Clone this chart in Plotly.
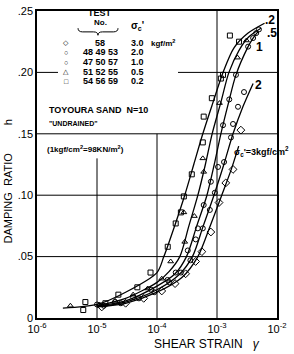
import plotly.graph_objects as go

# ---------------- data ----------------
# fitted curves (shear strain, damping ratio h)
c02_strain = [2.7e-6, 1e-5, 3e-5, 1e-4, 1.3e-4, 2.0e-4, 2.9e-4, 4.1e-4, 5.8e-4, 8.5e-4, 1.26e-3, 1.92e-3, 3.3e-3, 6.2e-3]
c02_h = [0.008, 0.011, 0.021, 0.037, 0.05, 0.076, 0.10, 0.125, 0.15, 0.175, 0.20, 0.220, 0.232, 0.240]

c05_strain = [1e-5, 3e-5, 1e-4, 1.6e-4, 2.4e-4, 3.4e-4, 4.8e-4, 6.4e-4, 8.3e-4, 1.15e-3, 1.58e-3, 2.33e-3, 3.4e-3, 5.4e-3]
c05_h = [0.010, 0.016, 0.029, 0.038, 0.05, 0.075, 0.10, 0.125, 0.15, 0.175, 0.20, 0.218, 0.229, 0.236]

c10_strain = [1e-5, 3e-5, 1e-4, 2.0e-4, 3.1e-4, 4.6e-4, 6.8e-4, 9.0e-4, 1.16e-3, 1.55e-3, 2.07e-3, 3.3e-3, 4.0e-3, 4.8e-3]
c10_h = [0.010, 0.014, 0.026, 0.036, 0.05, 0.075, 0.10, 0.125, 0.15, 0.175, 0.198, 0.221, 0.228, 0.233]

c20_strain = [1e-5, 3e-5, 1e-4, 2.3e-4, 3.9e-4, 5.9e-4, 8.9e-4, 1.3e-3, 1.85e-3, 2.7e-3, 4.0e-3]
c20_h = [0.009, 0.013, 0.023, 0.035, 0.05, 0.075, 0.10, 0.125, 0.15, 0.172, 0.191]

c30_strain = [1e-5, 3e-5, 1e-4, 2.6e-4, 4.8e-4, 7.7e-4, 1.2e-3, 1.7e-3, 2.3e-3]
c30_h = [0.009, 0.012, 0.021, 0.033, 0.05, 0.075, 0.10, 0.12, 0.14]

# test points
sq_strain = [5.9e-6, 6.4e-6, 1.38e-5, 2.27e-5, 4.7e-5, 7.8e-5, 1.51e-4, 2.05e-4, 2.5e-4, 2.8e-4, 3.8e-4, 5.8e-4, 6.0e-4, 8.2e-4, 1.16e-3, 1.26e-3, 1.64e-3, 2.33e-3]
sq_h = [0.0065, 0.013, 0.012, 0.019, 0.025, 0.037, 0.058, 0.077, 0.086, 0.099, 0.117, 0.143, 0.164, 0.179, 0.195, 0.198, 0.230, 0.225]

tri_strain = [3.6e-6, 1.1e-5, 2.0e-5, 4.0e-5, 7.0e-5, 1.2e-4, 1.69e-4, 2.9e-4, 2.8e-4, 4.2e-4, 6.0e-4, 5.8e-4, 1.1e-3, 2.2e-3, 3.1e-3]
tri_h = [0.010, 0.011, 0.014, 0.019, 0.024, 0.032, 0.046, 0.062, 0.086, 0.083, 0.119, 0.130, 0.175, 0.212, 0.226]

o10_strain = [1.0e-5, 2.0e-5, 4.0e-5, 8.0e-5, 1.5e-4, 2.05e-4, 3.26e-4, 4.8e-4, 6.0e-4, 7.9e-4, 1.26e-3, 1.6e-3, 2.07e-3, 3.3e-3, 4.0e-3, 4.5e-3, 5.0e-3]
o10_h = [0.011, 0.013, 0.017, 0.023, 0.031, 0.037, 0.055, 0.073, 0.092, 0.111, 0.157, 0.178, 0.198, 0.221, 0.228, 0.232, 0.235]

o20_strain = [1.3e-5, 2.5e-5, 5.0e-5, 9.0e-5, 1.6e-4, 2.5e-4, 3.6e-4, 4.43e-4, 5.8e-4, 7.6e-4, 9.2e-4, 1.04e-3, 1.31e-3, 1.71e-3, 1.85e-3, 2.24e-3, 2.82e-3]
o20_h = [0.010, 0.012, 0.016, 0.021, 0.029, 0.037, 0.047, 0.064, 0.073, 0.088, 0.102, 0.123, 0.127, 0.147, 0.158, 0.172, 0.184]

dia_strain = [1.2e-5, 3.0e-5, 6.0e-5, 1.2e-4, 2.0e-4, 3.0e-4, 4.4e-4, 5.6e-4, 7.9e-4, 1.08e-3, 1.4e-3, 1.85e-3, 2.5e-3]
dia_h = [0.009, 0.012, 0.016, 0.022, 0.028, 0.036, 0.046, 0.054, 0.070, 0.094, 0.110, 0.121, 0.153]

x_tickvals = [1e-6, 1e-5, 1e-4, 1e-3, 1e-2]
x_ticktext = ["10<sup>-6</sup>", "10<sup>-5</sup>", "10<sup>-4</sup>", "10<sup>-3</sup>", "10<sup>-2</sup>"]
y_tickvals = [0, 0.05, 0.10, 0.15, 0.20, 0.25]
y_ticktext = ["0", ".05", ".10", ".15", ".20", ".25"]

legend_tests = ["58", "48 49 53", "47 50 57", "51 52 55", "54 56 59"]
legend_sigma = ["3.0", "2.0", "1.0", "0.5", "0.2"]
legend_symbols = ["\u25c7", "\u25cb", "\u25cb", "\u25b3", "\u25a1"]

FONT = "Liberation Sans"

fig = go.Figure()

for xs, ys in [(c02_strain, c02_h), (c05_strain, c05_h), (c10_strain, c10_h),
               (c20_strain, c20_h), (c30_strain, c30_h)]:
    fig.add_trace(go.Scatter(x=xs, y=ys, mode="lines",
                             line=dict(color="black", width=1.3, shape="spline", smoothing=0.8),
                             hoverinfo="skip"))

for xs, ys, sym, sz in [(sq_strain, sq_h, "square-open", 5),
                        (tri_strain, tri_h, "triangle-up-open", 5),
                        (o10_strain, o10_h, "circle-open", 5),
                        (o20_strain, o20_h, "circle-open", 5),
                        (dia_strain, dia_h, "diamond-open", 6)]:
    fig.add_trace(go.Scatter(x=xs, y=ys, mode="markers",
                             marker=dict(symbol=sym, size=sz, color="black",
                                         line=dict(color="black", width=1)),
                             hoverinfo="skip"))

# grid segments (paper coords)
shapes = []
def seg(x0, y0, x1, y1):
    shapes.append(dict(type="line", xref="paper", yref="paper", x0=x0, y0=y0, x1=x1, y1=y1,
                       line=dict(color="black", width=1)))
seg(0.25, 0, 0.25, 0.52)
seg(0.5, 0, 0.5, 0.6)
seg(0.75, 0, 0.75, 1)
seg(0, 0.2, 1, 0.2)
seg(0, 0.4, 1, 0.4)
seg(0, 0.6, 1, 0.6)
seg(0, 0.8, 0.0875, 0.8)
seg(0.5875, 0.8, 1, 0.8)
# brace under TEST No.
shapes.append(dict(type="path", xref="paper", yref="paper",
                   path="M 0.171,0.944 Q 0.171,0.932 0.19,0.932 L 0.235,0.932 Q 0.254,0.932 0.254,0.921 "
                        "Q 0.254,0.932 0.273,0.932 L 0.318,0.932 Q 0.3375,0.932 0.3375,0.944",
                   line=dict(color="black", width=1)))

ann = []
def txt(x, y, s, size=9, xa="center", ya="middle", angle=0):
    ann.append(dict(x=x, y=y, xref="paper", yref="paper", text=s, showarrow=False,
                    xanchor=xa, yanchor=ya, textangle=angle, borderpad=0,
                    font=dict(family=FONT, size=size, color="black")))

txt(0.2625, 0.993, "<b>TEST</b>", 9)
txt(0.2625, 0.964, "<b>No.</b>", 8)
txt(0.417, 0.950, "<b>σ<sub>c</sub>'</b>", 10)
rows_y = [0.897, 0.865, 0.833, 0.802, 0.771]
for yy, t, s, m in zip(rows_y, legend_tests, legend_sigma, legend_symbols):
    txt(0.121, yy, m, 7)
    txt(0.2625, yy, "<b>" + t + "</b>", 9)
    txt(0.417, yy, "<b>" + s + "</b>", 9)
txt(0.471, 0.897, "<b>kgf/m<sup>2</sup></b>", 8, xa="left")
txt(0.046, 0.6775, "<b>TOYOURA SAND  N=10</b>", 9, xa="left")
txt(0.046, 0.633, "<b>\"UNDRAINED\"</b>", 7, xa="left")
txt(0.038, 0.550, "<b>(1kgf/cm<sup>2</sup>=98KN/m<sup>2</sup>)</b>", 8, xa="left")

# curve labels
txt(0.971, 0.971, "<b>.2</b>", 12)
txt(0.979, 0.928, "<b>.5</b>", 12)
txt(0.925, 0.883, "<b>1</b>", 12)
txt(0.921, 0.759, "<b>2</b>", 12)
txt(0.817, 0.541, "<b>σ<sub>c</sub>'=3kgf/cm<sup>2</sup></b>", 9, xa="left")

# axis titles
txt(-0.12, 0.39, "DAMPING  RATIO", 11, angle=-90)
txt(-0.12, 0.638, "h", 11, angle=-90)
txt(0.71, -0.085, "SHEAR STRAIN   <i>γ</i>", 12)

fig.update_layout(
    width=294, height=354,
    margin=dict(l=37, r=17, t=11, b=36),
    paper_bgcolor="white", plot_bgcolor="white",
    showlegend=False,
    shapes=shapes, annotations=ann,
    font=dict(family=FONT, color="black"),
    xaxis=dict(type="log", range=[-6, -2], showgrid=False, zeroline=False,
               showline=True, mirror=True, linecolor="black", linewidth=1.5,
               tickvals=x_tickvals, ticktext=x_ticktext, ticks="",
               tickfont=dict(family=FONT, size=11, color="black"), automargin=False),
    yaxis=dict(range=[0, 0.25], showgrid=False, zeroline=False,
               showline=True, mirror=True, linecolor="black", linewidth=1.5,
               tickvals=y_tickvals, ticktext=y_ticktext, ticks="",
               tickfont=dict(family=FONT, size=11, color="black"), automargin=False),
)

fig.write_html("out.html")
